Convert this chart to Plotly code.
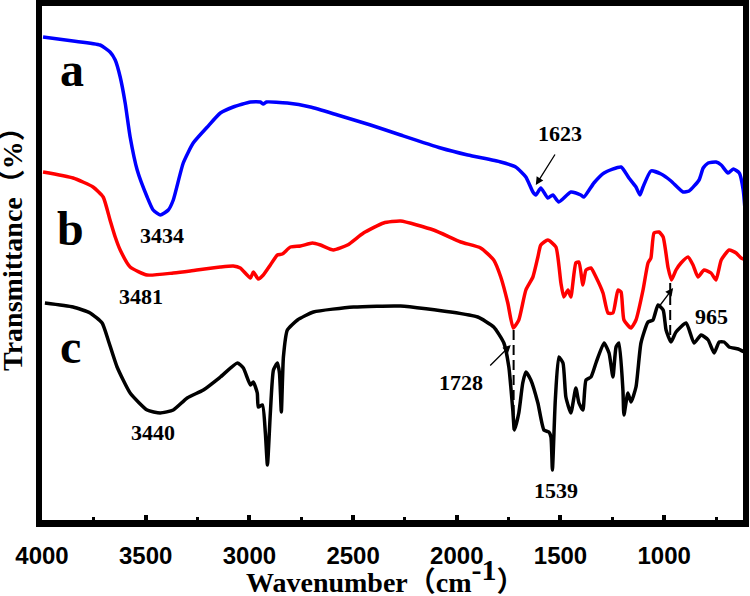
import plotly.graph_objects as go

# FTIR spectra (wavenumber in cm-1, transmittance in arbitrary units)
wn_a = [3995, 3850, 3720, 3672, 3647, 3623, 3599, 3575, 3541, 3493, 3464, 3430, 3391, 3367,
        3319, 3271, 3203, 3140, 3078, 2995, 2947, 2933, 2918, 2817, 2706, 2575, 2416, 2271,
        2078, 1947, 1788, 1716, 1667, 1633, 1619, 1595, 1561, 1537, 1508, 1450, 1402, 1387,
        1339, 1290, 1208, 1170, 1136, 1117, 1102, 1064, 1015, 967, 909, 880, 832, 812, 788,
        750, 725, 692, 667, 638, 619, 605]
t_a = [488, 484, 480, 473, 465, 448, 422, 388, 355, 328, 315, 310, 315, 325,
       362, 382, 398, 412, 418, 423, 423, 421, 423, 422, 418, 410, 400, 390,
       377, 370, 363, 358, 348, 333, 330, 337, 327, 330, 323, 333, 330, 328,
       342, 352, 358, 347, 338, 330, 338, 354, 351, 344, 333, 334, 345, 357, 362,
       363, 360, 352, 356, 352, 335, 300]

wn_b = [3995, 3850, 3754, 3705, 3672, 3647, 3623, 3575, 3493, 3367, 3285, 3140, 3078, 3044,
        2995, 2981, 2957, 2933, 2899, 2865, 2841, 2802, 2754, 2696, 2657, 2595, 2527, 2450,
        2353, 2271, 2112, 1981, 1885, 1822, 1788, 1754, 1728, 1701, 1667, 1633, 1609, 1595,
        1561, 1522, 1498, 1484, 1464, 1450, 1426, 1411, 1392, 1377, 1353, 1329, 1295, 1271,
        1247, 1223, 1208, 1194, 1160, 1136, 1102, 1078, 1064, 1049, 1025, 1005, 981, 965,
        943, 919, 885, 861, 837, 808, 774, 750, 725, 687, 653, 629, 605]
t_b = [353, 347, 338, 328, 305, 288, 275, 258, 250, 252, 254, 258, 259, 257,
       247, 253, 246, 250, 260, 270, 271, 278, 279, 282, 280, 275, 280, 292,
       302, 304, 295, 283, 277, 265, 248, 222, 197, 205, 235, 248, 268, 280,
       285, 278, 242, 228, 235, 228, 262, 263, 240, 255, 257, 248, 232, 212,
       212, 235, 233, 205, 197, 205, 235, 262, 267, 292, 293, 288, 257, 245,
       255, 262, 268, 260, 248, 255, 252, 245, 265, 275, 272, 267, 265]

wn_c = [3986, 3850, 3768, 3710, 3681, 3638, 3575, 3493, 3430, 3367, 3300, 3222, 3140, 3058,
        3029, 2995, 2981, 2962, 2957, 2937, 2923, 2913, 2899, 2884, 2865, 2855, 2846, 2836,
        2817, 2768, 2691, 2498, 2271, 2029, 1899, 1822, 1773, 1749, 1730, 1722, 1701, 1682,
        1667, 1643, 1609, 1580, 1556, 1546, 1539, 1525, 1508, 1488, 1474, 1450, 1426, 1411,
        1392, 1377, 1353, 1329, 1290, 1266, 1247, 1232, 1218, 1199, 1194, 1175, 1160, 1136,
        1112, 1078, 1054, 1030, 1005, 991, 967, 943, 894, 856, 822, 788, 759, 735, 711, 687,
        643, 614]
t_c = [222, 218, 212, 202, 185, 158, 132, 115, 112, 115, 127, 135, 148, 162,
       157, 140, 143, 132, 118, 120, 92, 60, 112, 155, 162, 152, 113, 168,
       195, 205, 213, 218, 219, 213, 208, 198, 182, 158, 115, 95, 112, 142,
       153, 145, 122, 95, 93, 88, 55, 125, 168, 162, 128, 112, 137, 122,
       115, 145, 148, 162, 182, 172, 148, 178, 182, 135, 110, 132, 123, 138,
       182, 203, 205, 220, 215, 195, 183, 193, 202, 182, 190, 185, 172, 183, 183, 178,
       176, 173]

# peak labels: text, x, y
peak_labels = [("3434", 3420, 290), ("3481", 3522, 229), ("3440", 3464, 93),
               ("1623", 1503, 392), ("1728", 1981, 143), ("1539", 1522, 35),
               ("965", 774, 209)]
# arrows: head x, head y, tail x, tail y
arrows = [(1619, 340, 1522, 372), (1740, 180, 1846, 158), (957, 237, 1030, 217)]
# dashed guides: x, y from, y to
guides = [(1726, 95, 197), (971, 190, 242)]
# curve letters: text, x, y
curve_names = [("a", 3855, 456), ("b", 3865, 297), ("c", 3865, 179)]

serif = "Liberation Serif, Times New Roman, Noto Sans CJK SC"

fig = go.Figure()
for xs, ys, col in [(wn_a, t_a, "#0000FF"), (wn_b, t_b, "#FF0000"), (wn_c, t_c, "#000000")]:
    fig.add_trace(go.Scatter(x=xs, y=ys, mode="lines",
                             line=dict(color=col, width=3.5, shape="spline", smoothing=0.5)))

for gx, y0, y1 in guides:
    fig.add_shape(type="line", x0=gx, x1=gx, y0=y0, y1=y1, xref="x", yref="y",
                  line=dict(color="black", width=2, dash="10px,5px"))

for txt, x, y in peak_labels:
    fig.add_annotation(x=x, y=y, text=txt, showarrow=False,
                       font=dict(family=serif, size=22, color="black", weight="bold"))

for hx, hy, tx, ty in arrows:
    fig.add_annotation(x=hx, y=hy, ax=tx, ay=ty, axref="x", ayref="y", text="",
                       showarrow=True, arrowhead=2, arrowsize=1.2, arrowwidth=1.3,
                       arrowcolor="black")

for txt, x, y in curve_names:
    fig.add_annotation(x=x, y=y, text=txt, showarrow=False,
                       font=dict(family=serif, size=48, color="black", weight="bold"))

# axis titles
fig.add_annotation(xref="paper", yref="paper", x=0.49, y=-0.108,
                   xanchor="center", yanchor="middle",
                   text='Wavenumber（cm<sup><span style="font-size:30px">-1</span></sup>）',
                   showarrow=False, font=dict(family=serif, size=28, color="black", weight="bold"))
fig.add_annotation(xref="paper", yref="paper", x=-0.0414, y=0.541, textangle=-90,
                   xanchor="center", yanchor="middle",
                   text="Transmittance（%）", showarrow=False,
                   font=dict(family=serif, size=28, color="black", weight="bold"))

fig.update_layout(
    width=750, height=596,
    margin=dict(l=42, r=7, t=6, b=76, autoexpand=False),
    plot_bgcolor="white", paper_bgcolor="white",
    showlegend=False,
    xaxis=dict(range=[4000, 620], showgrid=False, zeroline=False, automargin=False,
               showline=True, linewidth=7, linecolor="black", mirror=True,
               tickmode="linear", tick0=0, dtick=500,
               ticks="inside", ticklen=5, tickwidth=4, tickcolor="black",
               ticklabelstandoff=8,
               minor=dict(dtick=250, ticks="inside", ticklen=3, tickwidth=3,
                          tickcolor="black", showgrid=False),
               tickfont=dict(family="Liberation Sans, Arial", size=24, color="black", weight="bold")),
    yaxis=dict(range=[5, 519], showgrid=False, zeroline=False, showticklabels=False,
               automargin=False,
               showline=True, linewidth=6, linecolor="black", mirror=True, ticks=""),
)

# the page body has a default margin; drop it so the figure starts at the corner
fig.write_html("out.html", config={"displayModeBar": False},
               post_script="document.body.style.margin='0px';")
